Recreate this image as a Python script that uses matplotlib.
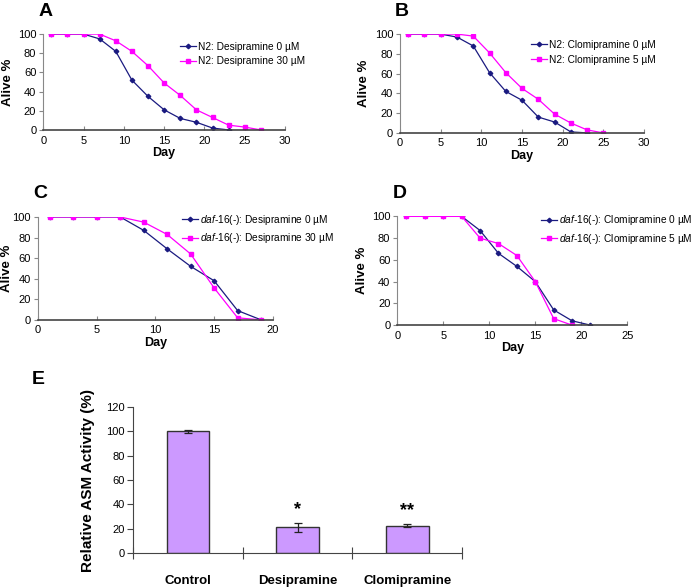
import matplotlib
matplotlib.use('Agg')
import matplotlib.pyplot as plt
import numpy as np

plt.rcParams['font.family'] = ['Liberation Sans', 'DejaVu Sans']
plt.rcParams['mathtext.fontset'] = 'custom'
plt.rcParams['mathtext.it'] = 'Liberation Sans:italic'
plt.rcParams['mathtext.rm'] = 'Liberation Sans'

# panel A
a_days0 = [1, 3, 5, 7, 9, 11, 13, 15, 17, 19, 21, 23]
a_vals0 = [100, 100, 100, 95, 82, 52, 35, 21, 12, 8, 2, 0]
a_days1 = [1, 3, 5, 7, 9, 11, 13, 15, 17, 19, 21, 23, 25, 27]
a_vals1 = [100, 100, 100, 100, 93, 82, 67, 49, 36, 21, 13, 5, 3, 0]

# panel B
b_days0 = [1, 3, 5, 7, 9, 11, 13, 15, 17, 19, 21, 23]
b_vals0 = [100, 100, 100, 97, 88, 61, 42, 33, 16, 11, 1, 0]
b_days1 = [1, 3, 5, 7, 9, 11, 13, 15, 17, 19, 21, 23, 25]
b_vals1 = [100, 100, 100, 100, 98, 81, 61, 45, 34, 19, 10, 3, 0]

# panel C
c_days0 = [1, 3, 5, 7, 9, 11, 13, 15, 17, 19]
c_vals0 = [100, 100, 100, 100, 87, 69, 52, 38, 9, 0]
c_days1 = [1, 3, 5, 7, 9, 11, 13, 15, 17, 19]
c_vals1 = [100, 100, 100, 100, 95, 83, 64, 31, 2, 0]

# panel D
d_days0 = [1, 3, 5, 7, 9, 11, 13, 15, 17, 19, 21]
d_vals0 = [100, 100, 100, 100, 87, 66, 54, 40, 14, 4, 0]
d_days1 = [1, 3, 5, 7, 9, 11, 13, 15, 17, 19]
d_vals1 = [100, 100, 100, 100, 80, 75, 64, 40, 6, 0]

# panel E
drugs = ['Control', 'Desipramine', 'Clomipramine']
activity = [100, 21, 22.5]
activity_err = [1, 3.5, 1]
stars = ['', '*', '**']

navy = '#1a1a80'
pink = '#ff00ff'
gene = r'$\mathit{daf}$-$\mathit{16(}$-$\mathit{)}$'

fig = plt.figure(figsize=(6.97, 5.88), dpi=100)


def survival(rect, d0, v0, d1, v1, lab0, lab1, xmax, letter, leg_xy, ypad=3):
    ax = fig.add_axes(rect)
    ax.plot(d0, v0, color=navy, marker='D', markersize=2.3, lw=0.9, label=lab0)
    ax.plot(d1, v1, color=pink, marker='s', markersize=3.3, lw=0.9, label=lab1)
    ax.set_xlim(0, xmax)
    ax.set_ylim(0, 100)
    ax.set_xticks(np.arange(0, xmax + 1, 5))
    ax.set_yticks([0, 20, 40, 60, 80, 100])
    ax.spines['top'].set_visible(False)
    ax.spines['right'].set_visible(False)
    ax.spines['left'].set_color('#888888')
    ax.spines['bottom'].set_color('#444444')
    ax.spines['bottom'].set_linewidth(1.2)
    ax.tick_params(axis='y', length=3, color='#888888', labelsize=8, pad=2)
    ax.tick_params(axis='x', direction='in', length=3, color='#888888', labelsize=8, pad=4)
    ax.set_xlabel('Day', fontsize=9, fontweight='bold', labelpad=1)
    ax.set_ylabel('Alive %', fontsize=9.5, fontweight='bold', labelpad=ypad)
    ax.legend(frameon=False, fontsize=7.3, loc='upper left', bbox_to_anchor=leg_xy,
              handlelength=1.6, handletextpad=0.2, labelspacing=0.45,
              borderaxespad=0, borderpad=0)
    top = rect[1] + rect[3]
    fig.text(rect[0] - 0.007, top + 23 / 588, letter, fontsize=14, fontweight='bold',
             va='center')
    return ax


survival([0.062, 0.779, 0.347, 0.163], a_days0, a_vals0, a_days1, a_vals1,
         'N2: Desipramine 0 µM', 'N2: Desipramine 30 µM', 30, 'A', (0.566, 0.92))
survival([0.574, 0.774, 0.350, 0.168], b_days0, b_vals0, b_days1, b_vals1,
         'N2: Clomipramine 0 µM', 'N2: Clomipramine 5 µM', 30, 'B', (0.537, 0.94))
survival([0.0545, 0.456, 0.337, 0.175], c_days0, c_vals0, c_days1, c_vals1,
         gene + ': Desipramine 0 µM', gene + ': Desipramine 30 µM', 20, 'C', (0.613, 1.04),
         ypad=0)
survival([0.570, 0.447, 0.330, 0.185], d_days0, d_vals0, d_days1, d_vals1,
         gene + ': Clomipramine 0 µM', gene + ': Clomipramine 5 µM', 25, 'D', (0.625, 1.03))

# panel E
axe = fig.add_axes([0.191, 0.0595, 0.472, 0.248])
x = np.arange(len(drugs))
axe.bar(x, activity, width=0.39, color='#cc99ff', edgecolor='#333333', linewidth=1.0,
        yerr=activity_err, capsize=3,
        error_kw={'elinewidth': 0.9, 'capthick': 0.9, 'ecolor': '#222222'})
for xi, v, e, s in zip(x, activity, activity_err, stars):
    if s:
        axe.text(xi, v + e + 11, s, ha='center', va='center', fontsize=13, fontweight='bold')
axe.set_xlim(-0.5, 2.5)
axe.set_ylim(0, 120)
axe.set_yticks(np.arange(0, 121, 20))
axe.set_xticks([-0.5, 0.5, 1.5, 2.5])
axe.set_xticklabels([])
axe.set_xticks(x, minor=True)
axe.set_xticklabels(drugs, minor=True, fontsize=9.5, fontweight='bold')
axe.tick_params(axis='x', which='major', direction='inout', length=8, color='#444444')
axe.tick_params(axis='x', which='minor', length=0, pad=16)
axe.tick_params(axis='y', length=4, color='#444444', labelsize=8, pad=2)
axe.spines['top'].set_visible(False)
axe.spines['right'].set_visible(False)
axe.spines['left'].set_color('#444444')
axe.spines['bottom'].set_color('#444444')
axe.set_ylabel('Relative ASM Activity (%)', fontsize=11, fontweight='bold', labelpad=8)
fig.text(0.045, 1 - 380 / 588, 'E', fontsize=14, fontweight='bold', va='center')

fig.savefig('out.png', dpi=100)
